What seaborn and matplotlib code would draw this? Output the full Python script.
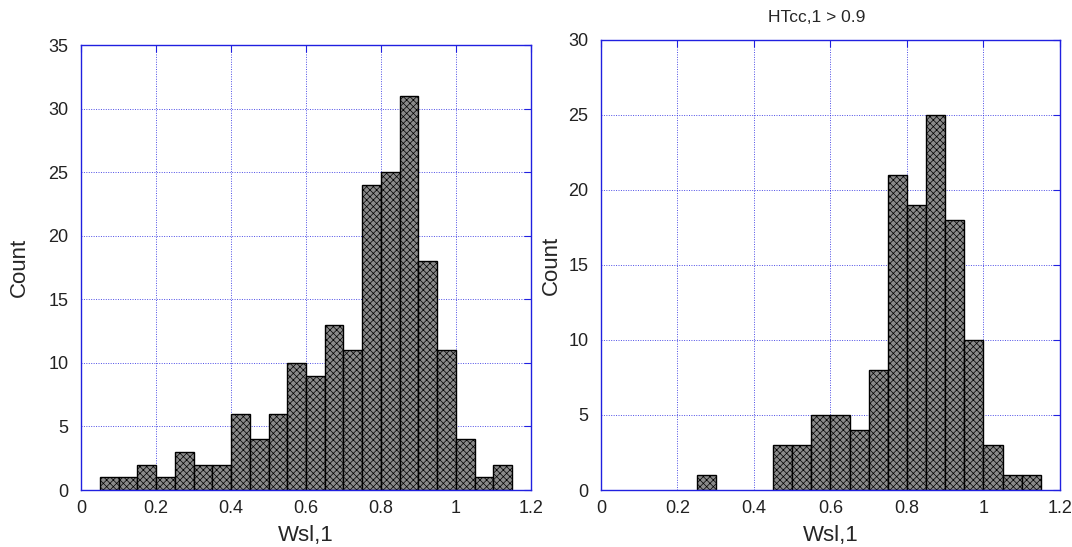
import numpy as np
import pandas as pd
import matplotlib
matplotlib.use("Agg")
import matplotlib.pyplot as plt
import seaborn as sns

# === Data ===
bin_width = 0.05
left_bins = [0.05, 0.10, 0.15, 0.20, 0.25, 0.30, 0.35, 0.40, 0.45, 0.50, 0.55,
             0.60, 0.65, 0.70, 0.75, 0.80, 0.85, 0.90, 0.95, 1.00, 1.05, 1.10]
left_counts = [1, 1, 2, 1, 3, 2, 2, 6, 4, 6, 10, 9, 13, 11, 24, 25, 31, 18, 11, 4, 1, 2]

right_bins = [0.25, 0.45, 0.50, 0.55, 0.60, 0.65, 0.70, 0.75, 0.80, 0.85,
              0.90, 0.95, 1.00, 1.05, 1.10]
right_counts = [1, 3, 3, 5, 5, 4, 8, 21, 19, 25, 18, 10, 3, 1, 1]

x_label = "Wsl,1"
y_label = "Count"
right_title = "HTcc,1 > 0.9"

# === Style ===
sns.set_style("white")
plt.rcParams["font.family"] = ["Liberation Sans", "DejaVu Sans"]
plt.rcParams["hatch.color"] = "#5a5a5a"
plt.rcParams["hatch.linewidth"] = 0.5
blue = "#2020e0"


def draw_hist(ax, bins, counts, ymax, ystep, ypad):
    df = pd.DataFrame({"x": np.array(bins) + bin_width / 2, "n": counts})
    sns.histplot(data=df, x="x", weights="n", binwidth=bin_width,
                 binrange=(0.05, 1.15), ax=ax,
                 color="#8a8a8a", edgecolor="black", linewidth=1.0, alpha=1.0)
    for p in ax.patches:
        if p.get_height() == 0:
            p.set_visible(False)
        p.set_hatch("xxxxx")
        p.set_edgecolor("black")
    ax.set_xlim(0, 1.2)
    ax.set_ylim(0, ymax)
    ax.set_xticks(np.arange(0, 1.21, 0.2))
    ax.set_xticklabels(["0", "0.2", "0.4", "0.6", "0.8", "1", "1.2"])
    ax.set_yticks(np.arange(0, ymax + 0.1, ystep))
    ax.grid(True, color=blue, linestyle=(0, (1, 1.5)), linewidth=0.7, alpha=0.8)
    ax.set_axisbelow(True)
    for s in ax.spines.values():
        s.set_visible(True)
        s.set_color(blue)
        s.set_linewidth(1.0)
    ax.tick_params(direction="in", length=5, color=blue, labelsize=13,
                   labelcolor="#222222", top=True, right=True)
    ax.tick_params(axis="x", pad=7)
    ax.tick_params(axis="y", pad=9)
    ax.set_xlabel(x_label, fontsize=16, labelpad=6)
    ax.set_ylabel(y_label, fontsize=16, labelpad=ypad)


fig = plt.figure(figsize=(10.72, 5.47), dpi=100)
ax1 = fig.add_axes([0.0756, 0.1042, 0.4197, 0.8135])
ax2 = fig.add_axes([0.5606, 0.1042, 0.4282, 0.8227])

draw_hist(ax1, left_bins, left_counts, 35, 5, 13)
draw_hist(ax2, right_bins, right_counts, 30, 5, 5)
ax2.set_title(right_title, fontsize=12.5, pad=13, x=0.47)

fig.savefig("out.png", dpi=100)
